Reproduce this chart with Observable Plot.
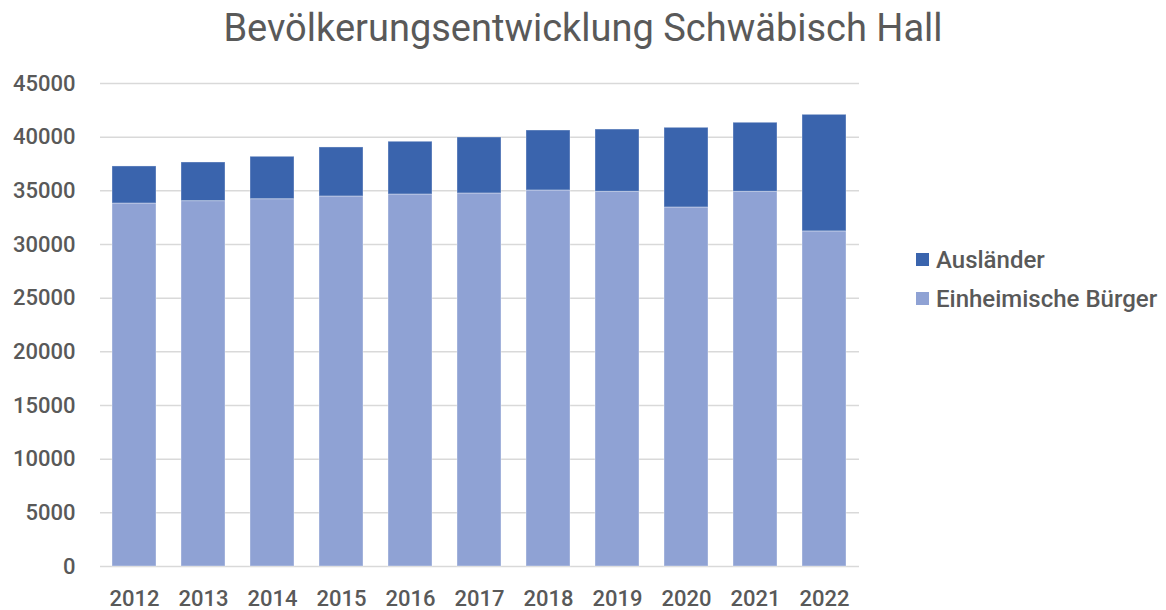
<!DOCTYPE html>
<html>
<head>
<meta charset="utf-8">
<script src="https://cdn.jsdelivr.net/npm/d3@7"></script>
<script src="https://cdn.jsdelivr.net/npm/@observablehq/plot@0.6"></script>
<style>
  body { margin: 0; background: #fff; font-family: Roboto, "DejaVu Sans", sans-serif; }
  #wrap { position: relative; width: 1166px; height: 610px; }
  #title { position: absolute; left: 0; top: 6px; width: 1166px; text-align: center; font-size: 38px; font-weight: 400; color: #595959; }
  #chart { position: absolute; left: 0; top: 60px; }
  #legend { position: absolute; left: 916px; top: 240px; font-size: 24px; font-weight: 500; color: #595959; }
  .item { display: flex; align-items: center; height: 39px; }
  .sw { width: 13px; height: 13px; margin-right: 7px; }
</style>
</head>
<body>
<div id="wrap">
  <div id="title">Bevölkerungsentwicklung Schwäbisch Hall</div>
  <div id="chart"></div>
  <div id="legend"></div>
</div>
<script>
const years = ["2012","2013","2014","2015","2016","2017","2018","2019","2020","2021","2022"];
const totals = [37270, 37640, 38170, 39040, 39570, 39970, 40620, 40710, 40870, 41340, 42080];
const einheimische = [33820, 34040, 34220, 34475, 34660, 34755, 35035, 34910, 33450, 34910, 31220];
const auslaender = totals.map((t, i) => t - einheimische[i]);
const seriesNames = ["Ausländer", "Einheimische Bürger"];
const seriesColors = ["#3A64AD", "#8FA2D4"];
const yTicks = [0, 5000, 10000, 15000, 20000, 25000, 30000, 35000, 40000, 45000];

const data = [];
years.forEach((y, i) => {
  data.push({year: y, series: "Einheimische Bürger", value: einheimische[i]});
  data.push({year: y, series: "Ausländer", value: auslaender[i]});
});

const chart = Plot.plot({
  width: 1166,
  height: 550,
  marginTop: 23,
  marginBottom: 44,
  marginLeft: 100,
  marginRight: 307,
  style: {fontFamily: "Roboto, 'DejaVu Sans', sans-serif", fontSize: "22px", fontWeight: 500, color: "#595959", background: "#fff"},
  x: {domain: years, paddingInner: 0.36, paddingOuter: 0.18, label: null, tickSize: 0, tickPadding: 24},
  y: {domain: [0, 45000], ticks: yTicks, label: null, tickSize: 0, tickPadding: 25, tickFormat: d => String(d), grid: false},
  color: {domain: seriesNames, range: seriesColors},
  marks: [
    Plot.ruleY(yTicks, {stroke: "#d9d9d9", strokeWidth: 1.5}),
    Plot.barY(data, {x: "year", y: "value", fill: "series", order: ["Einheimische Bürger", "Ausländer"], stroke: "#ffffff", strokeOpacity: 0.35, strokeWidth: 1})
  ]
});
document.getElementById("chart").appendChild(chart);

const legend = document.getElementById("legend");
seriesNames.forEach((s, i) => {
  const it = document.createElement("div");
  it.className = "item";
  const sw = document.createElement("div");
  sw.className = "sw";
  sw.style.background = seriesColors[i];
  const t = document.createElement("span");
  t.textContent = s;
  it.appendChild(sw); it.appendChild(t);
  legend.appendChild(it);
});
</script>
</body>
</html>
